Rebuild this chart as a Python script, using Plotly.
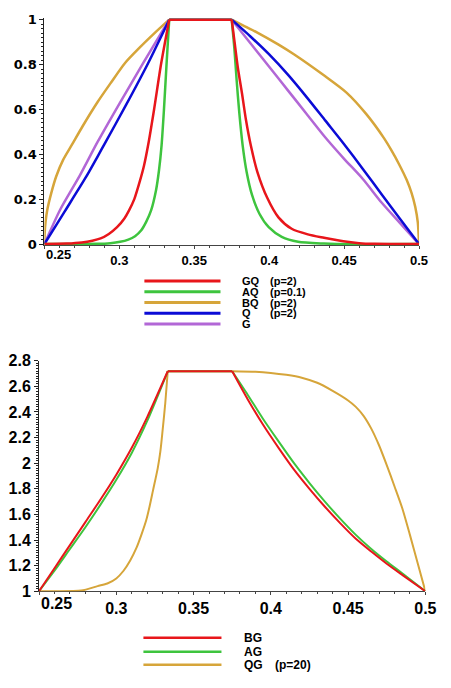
import plotly.graph_objects as go

# ---------------- top panel data (membership curves) ----------------
gq_x = [0.25, 0.265, 0.275, 0.282, 0.2875, 0.293, 0.2985, 0.3035, 0.3065, 0.310, 0.3137, 0.3165,
        0.3192, 0.3232, 0.3278, 0.3333, 0.375, 0.3769, 0.3791, 0.3819, 0.3845, 0.3878, 0.3921,
        0.3987, 0.4062, 0.4150, 0.4258, 0.4366, 0.4495, 0.46, 0.47, 0.5]
gq_y = [0, 0.002, 0.007, 0.015, 0.025, 0.045, 0.075, 0.115, 0.150, 0.20, 0.28, 0.35,
        0.44, 0.60, 0.80, 1.0, 1.0, 0.901, 0.786, 0.670, 0.554, 0.438, 0.322,
        0.206, 0.119, 0.068, 0.043, 0.028, 0.012, 0.004, 0.001, 0]

aq_x = [0.25, 0.285, 0.294, 0.3005, 0.306, 0.3105, 0.3145, 0.318, 0.3212, 0.3245, 0.3265, 0.3282,
        0.3298, 0.3315, 0.3333, 0.375, 0.3768, 0.3783, 0.3800, 0.3823, 0.3850, 0.3885, 0.3935,
        0.3997, 0.4084, 0.4193, 0.4366, 0.445, 0.5]
aq_y = [0, 0.001, 0.004, 0.010, 0.02, 0.035, 0.06, 0.10, 0.15, 0.24, 0.33, 0.44,
        0.60, 0.80, 1.0, 1.0, 0.87, 0.73, 0.59, 0.44, 0.32, 0.22, 0.135,
        0.075, 0.032, 0.010, 0.002, 0, 0]

bq_x = [0.25, 0.2502, 0.2508, 0.252, 0.2545, 0.2578, 0.2625, 0.2686, 0.2755, 0.2855, 0.2945,
        0.3037, 0.3135, 0.3235, 0.3333, 0.375, 0.3825, 0.3915, 0.406, 0.4165, 0.4365, 0.4516,
        0.4647, 0.4766, 0.4818, 0.4865, 0.4918, 0.4950, 0.4975, 0.4992, 0.5]
bq_y = [0, 0.05, 0.10, 0.155, 0.225, 0.30, 0.375, 0.445, 0.525, 0.633, 0.72,
        0.806, 0.875, 0.94, 1.0, 1.0, 0.975, 0.945, 0.89, 0.846, 0.752, 0.675,
        0.580, 0.472, 0.415, 0.358, 0.285, 0.228, 0.165, 0.095, 0]

q_x = [0.25, 0.2638, 0.2779, 0.2855, 0.2899, 0.3045, 0.3192, 0.3333, 0.375, 0.3875, 0.40,
       0.4125, 0.425, 0.4375, 0.45, 0.4625, 0.475, 0.4875, 0.5]
q_y = [0, 0.148, 0.30, 0.39, 0.443, 0.62, 0.806, 1.0, 1.0, 0.925, 0.845,
       0.755, 0.655, 0.55, 0.445, 0.335, 0.222, 0.11, 0]

g_x = [0.25, 0.2606, 0.2736, 0.2855, 0.300, 0.3159, 0.3333, 0.375, 0.3875, 0.40, 0.4125,
       0.425, 0.4375, 0.45, 0.4625, 0.475, 0.4875, 0.5]
g_y = [0, 0.154, 0.305, 0.455, 0.625, 0.806, 1.0, 1.0, 0.895, 0.79, 0.685,
       0.58, 0.475, 0.38, 0.29, 0.185, 0.092, 0]

# ---------------- bottom panel data ----------------
bg_x = [0.25, 0.26, 0.27, 0.28, 0.29, 0.30, 0.31, 0.32, 0.3333, 0.375, 0.385, 0.395, 0.405,
        0.415, 0.425, 0.435, 0.445, 0.455, 0.465, 0.475, 0.485, 0.5]
bg_y = [1.0, 1.18, 1.36, 1.54, 1.72, 1.91, 2.12, 2.36, 2.718, 2.718, 2.50, 2.30, 2.12,
        1.95, 1.80, 1.66, 1.53, 1.41, 1.31, 1.215, 1.128, 1.0]

ag_x = [0.25, 0.26, 0.27, 0.28, 0.29, 0.30, 0.31, 0.32, 0.3333, 0.375, 0.385, 0.395, 0.405,
        0.415, 0.425, 0.435, 0.445, 0.455, 0.465, 0.475, 0.485, 0.5]
ag_y = [1.0, 1.16, 1.33, 1.50, 1.68, 1.87, 2.08, 2.33, 2.718, 2.718, 2.535, 2.345, 2.17,
        2.00, 1.845, 1.70, 1.565, 1.44, 1.33, 1.232, 1.14, 1.0]

qg_x = [0.25, 0.26, 0.2773, 0.2879, 0.2942, 0.30, 0.3047, 0.309, 0.3131, 0.3165, 0.3194, 0.3215,
        0.3237, 0.3268, 0.3285, 0.3300, 0.3317, 0.3333, 0.375, 0.39, 0.40, 0.41, 0.42, 0.43,
        0.44, 0.45, 0.455, 0.46, 0.465, 0.47, 0.475, 0.48, 0.485, 0.49, 0.495, 0.5]
qg_y = [1.0, 1.0, 1.005, 1.04, 1.06, 1.10, 1.16, 1.24, 1.34, 1.45, 1.556, 1.66,
        1.784, 1.96, 2.09, 2.26, 2.47, 2.718, 2.718, 2.714, 2.705, 2.69, 2.668, 2.628,
        2.565, 2.49, 2.44, 2.37, 2.27, 2.14, 1.985, 1.82, 1.65, 1.44, 1.22, 1.0]

# tick labels
x_tickvals = [0.25, 0.3, 0.35, 0.4, 0.45, 0.5]
x_ticktext = ["", "0.3", "0.35", "0.4", "0.45", "0.5"]

# legend texts
top_names = ["GQ", "AQ", "BQ", "Q", "G"]
top_params = ["(p=2)", "(p=0.1)", "(p=2)", "(p=2)", ""]
bot_names = ["BG", "AG", "QG"]
bot_params = ["", "", "(p=20)"]

RED = "#e8161b"
GREEN = "#3ec43e"
GOLD = "#d6a53a"
BLUE = "#0b0bd6"
PURPLE = "#b267d6"

W, H = 451, 688
PLATEAU_LO, PLATEAU_HI = 0.3334, 0.3749


def px_x(p):
    return p / W


def px_y(p):
    return (H - p) / H


fig = go.Figure()


def add_curve(xs, ys, color, width, xa, ya):
    left = [(x, y) for x, y in zip(xs, ys) if x <= PLATEAU_LO]
    right = [(x, y) for x, y in zip(xs, ys) if x >= PLATEAU_HI]
    plateau = [left[-1], right[0]]
    for seg, shape in ((left, "spline"), (plateau, "linear"), (right, "spline")):
        fig.add_trace(go.Scatter(
            x=[p[0] for p in seg], y=[p[1] for p in seg], mode="lines",
            line=dict(color=color, width=width, shape=shape, smoothing=0.7),
            xaxis=xa, yaxis=ya, showlegend=False, hoverinfo="skip"))


top_series = [
    (bq_x, bq_y, GOLD), (g_x, g_y, PURPLE), (q_x, q_y, BLUE),
    (aq_x, aq_y, GREEN), (gq_x, gq_y, RED),
]
for xs, ys, c in top_series:
    add_curve(xs, ys, c, 2.5, "x", "y")

bot_series = [(qg_x, qg_y, GOLD), (ag_x, ag_y, GREEN), (bg_x, bg_y, RED)]
for xs, ys, c in bot_series:
    add_curve(xs, ys, c, 2, "x2", "y2")

AX = "#444444"


def xaxis_cfg(domain, anchor, size):
    return dict(domain=domain, anchor=anchor, range=[0.25, 0.5], tickmode="array",
                tickvals=x_tickvals, ticktext=x_ticktext, showgrid=False, zeroline=False,
                showline=True, linecolor=AX, linewidth=1, ticks="outside", ticklen=3,
                tickcolor=AX, layer="below traces",
                tickfont=dict(family="Liberation Sans", size=size, color="black", weight="bold"),
                minor=dict(tickmode="linear", tick0=0.25, dtick=0.01, ticks="outside",
                           ticklen=2, tickcolor=AX))


def yaxis_cfg(domain, anchor, rng, family, size):
    return dict(domain=domain, anchor=anchor, range=rng, dtick=0.2, tick0=0,
                showgrid=False, zeroline=False, showline=True, linecolor="#222222",
                linewidth=1, ticks="outside", ticklen=4, tickcolor="#222222",
                layer="below traces",
                tickfont=dict(family=family, size=size, color="black", weight="bold"),
                minor=dict(dtick=0.02, ticks="outside", ticklen=2, tickcolor="#222222"))


fig.update_layout(
    width=W, height=H, margin=dict(l=0, r=0, t=0, b=0),
    paper_bgcolor="white", plot_bgcolor="white", showlegend=False,
    xaxis=xaxis_cfg([px_x(45.5), px_x(429.5)], "y", 13),
    yaxis=yaxis_cfg([px_y(243.4), px_y(10.6)], "x", [-0.006, 1.006], "DejaVu Sans", 13),
    xaxis2=xaxis_cfg([px_x(40), px_x(436)], "y2", 16),
    yaxis2=yaxis_cfg([px_y(598), px_y(361.7)], "x2", [1, 2.8], "Liberation Sans", 16),
)

shapes = []
annotations = []

# "0.25" labels placed to the right of the y axis
annotations.append(dict(x=0.25, xref="x", y=px_y(253), yref="paper", text="0.25",
                        showarrow=False, xanchor="left", yanchor="middle",
                        font=dict(family="Liberation Sans", size=13, color="black", weight="bold")))
annotations.append(dict(x=0.25, xref="x2", y=px_y(611), yref="paper", text="0.25",
                        showarrow=False, xanchor="left", yanchor="middle",
                        font=dict(family="Liberation Sans", size=16, color="black", weight="bold")))

# manual legends
top_colors = [RED, GREEN, GOLD, BLUE, PURPLE]
top_rows = [280, 291, 302, 313, 324]
LEG_TOP_FONT = dict(family="Liberation Sans", size=11, color="black", weight="bold")
for name, par, c, py in zip(top_names, top_params, top_colors, top_rows):
    shapes.append(dict(type="line", xref="paper", yref="paper", x0=px_x(148), x1=px_x(226),
                       y0=px_y(py), y1=px_y(py), line=dict(color=c, width=3)))
    annotations.append(dict(x=px_x(247), y=px_y(py), xref="paper", yref="paper", text=name,
                            showarrow=False, xanchor="left", yanchor="middle", borderpad=0,
                            font=LEG_TOP_FONT))
    if par:
        annotations.append(dict(x=px_x(276), y=px_y(py), xref="paper", yref="paper", text=par,
                                showarrow=False, xanchor="left", yanchor="middle", borderpad=0,
                                font=LEG_TOP_FONT))

bot_colors = [RED, GREEN, GOLD]
bot_rows = [645.7, 660, 673.3]
LEG_BOT_FONT = dict(family="Liberation Sans", size=12, color="black", weight="bold")
for name, par, c, py in zip(bot_names, bot_params, bot_colors, bot_rows):
    shapes.append(dict(type="line", xref="paper", yref="paper", x0=px_x(147), x1=px_x(227),
                       y0=px_y(py), y1=px_y(py), line=dict(color=c, width=2.5)))
    annotations.append(dict(x=px_x(249), y=px_y(py), xref="paper", yref="paper", text=name,
                            showarrow=False, xanchor="left", yanchor="middle", borderpad=0,
                            font=LEG_BOT_FONT))
    if par:
        annotations.append(dict(x=px_x(280.5), y=px_y(py), xref="paper", yref="paper", text=par,
                                showarrow=False, xanchor="left", yanchor="middle", borderpad=0,
                                font=LEG_BOT_FONT))

fig.update_layout(shapes=shapes, annotations=annotations)
fig.write_html("out.html", config={"displayModeBar": False},
               post_script="document.body.style.margin='0';")
